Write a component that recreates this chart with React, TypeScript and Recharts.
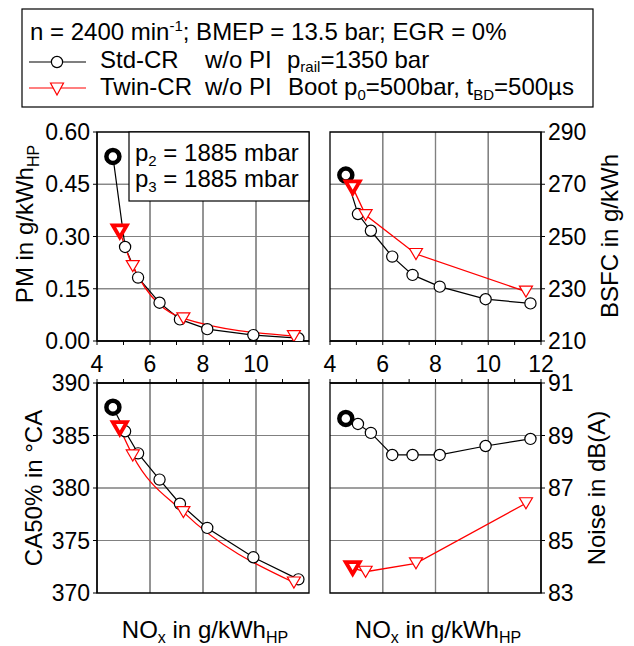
import React from "react";
import { LineChart, Line, XAxis, YAxis, CartesianGrid, ReferenceArea } from "recharts";

// NOx in g/kWh_HP of the operating points (first point = reference point, drawn bold)
const stdNox = [4.6, 5.06, 5.55, 6.36, 7.13, 8.16, 9.9, 11.6];
const twinNox = [4.86, 5.35, 7.26, 11.43];

// PM in g/kWh_HP
const pmStd = [0.53, 0.27, 0.182, 0.11, 0.062, 0.034, 0.017, 0.008];
const pmTwin = [0.315, 0.215, 0.065, 0.014];

// BSFC in g/kWh
const bsfcStd = [273.5, 258.6, 252.2, 242.3, 235.3, 230.8, 226.0, 224.4];
const bsfcTwin = [268.8, 258.2, 243.3, 228.9];

// CA50% in °CA
const ca50Std = [387.7, 385.4, 383.3, 380.8, 378.5, 376.2, 373.4, 371.3];
const ca50Twin = [385.7, 383.1, 377.7, 371.0];

// Noise in dB(A)
const noiseStd = [89.65, 89.44, 89.1, 88.26, 88.26, 88.26, 88.6, 88.87];
const noiseTwin = [83.95, 83.81, 84.13, 86.42];

const xTicks = [4, 5, 6, 7, 8, 9, 10, 11, 12];
const xGrid = [6, 8, 10];
const pmTicks = [0, 0.15, 0.3, 0.45, 0.6];
const bsfcTicks = [210, 230, 250, 270, 290];
const ca50Ticks = [370, 375, 380, 385, 390];
const noiseTicks = [83, 85, 87, 89, 91];

const W = 634;
const H = 646;
const FONT = "'Liberation Sans', Arial, Helvetica, sans-serif";
const RED = "#ff0000";
const GRID = "#808080";

const circleDot = (p: any) => {
  const { cx, cy, index } = p;
  if (cx == null || cy == null) return <g key={`c${index}`} />;
  const bold = index === 0;
  return (
    <circle
      key={`c${index}`}
      cx={cx}
      cy={cy}
      r={bold ? 6.5 : 5.6}
      fill="#fff"
      stroke="#000"
      strokeWidth={bold ? 4.5 : 1.2}
    />
  );
};

function triPath(cx: number, cy: number, w: number, h: number) {
  return `M${cx - w / 2},${cy - h / 2}L${cx + w / 2},${cy - h / 2}L${cx},${cy + h / 2}Z`;
}

const triangleDot = (p: any) => {
  const { cx, cy, index } = p;
  if (cx == null || cy == null) return <g key={`t${index}`} />;
  const bold = index === 0;
  return (
    <path
      key={`t${index}`}
      d={bold ? triPath(cx, cy, 14, 12) : triPath(cx, cy, 13, 11)}
      fill="#fff"
      stroke={RED}
      strokeWidth={bold ? 3.8 : 1.2}
      strokeLinejoin="miter"
    />
  );
};

type PanelProps = {
  x0: number;
  y0: number;
  x1: number;
  y1: number;
  yDomain: [number, number];
  yTicks: number[];
  yFmt: (v: number) => string;
  yRight?: boolean;
  xTop?: boolean;
  hide12?: boolean;
  smooth?: boolean;
  std: number[];
  twin: number[];
};

const AXW = 70;
const AXH = 40;

function Panel({ x0, y0, x1, y1, yDomain, yTicks, yFmt, yRight, xTop, hide12, smooth, std, twin }: PanelProps) {
  const stdData = stdNox.map((x, i) => ({ x, v: std[i] }));
  const twinData = twinNox.map((x, i) => ({ x, v: twin[i] }));
  const yGrid = yTicks.slice(1, -1);
  const margin = {
    left: yRight ? x0 : x0 - AXW,
    right: yRight ? W - x1 - AXW : W - x1,
    top: xTop ? y0 - AXH : y0,
    bottom: xTop ? H - y1 : H - y1 - AXH,
  };
  const tickStyle = { fill: "#000", fontSize: 23, fontFamily: FONT };

  // grid lines taken from the tick positions of a bare copy of the axes
  const vGridTick = (p: any) => (
    <line
      key={`vg${p.index}`}
      x1={p.x}
      x2={p.x}
      y1={y0}
      y2={y1}
      stroke={GRID}
      strokeWidth={1.2}
    />
  );
  const hGridTick = (p: any) => (
    <line
      key={`hg${p.index}`}
      x1={x0}
      x2={x1}
      y1={p.y}
      y2={p.y}
      stroke={GRID}
      strokeWidth={1.2}
    />
  );

  return (
    <>
      <div style={{ position: "absolute", left: 0, top: 0 }}>
        <LineChart width={W} height={H} margin={margin}>
          <CartesianGrid
            stroke={GRID}
            strokeWidth={1.2}
            verticalValues={xGrid}
            horizontalValues={yGrid}
          />
          <XAxis
            type="number"
            dataKey="x"
            domain={[4, 12]}
            ticks={xGrid}
            interval={0}
            orientation={xTop ? "top" : "bottom"}
            height={AXH}
            tick={vGridTick}
            tickLine={false}
            axisLine={false}
          />
          <YAxis
            type="number"
            domain={yDomain}
            ticks={yGrid}
            interval={0}
            orientation={yRight ? "right" : "left"}
            width={AXW}
            tick={hGridTick}
            tickLine={false}
            axisLine={false}
          />
          <Line
            data={stdData}
            dataKey="v"
            stroke="#fff"
            strokeOpacity={0}
            dot={false}
            activeDot={false}
            isAnimationActive={false}
          />
        </LineChart>
      </div>
      <div style={{ position: "absolute", left: 0, top: 0 }}>
        <LineChart width={W} height={H} margin={margin}>
          <XAxis
            type="number"
            dataKey="x"
            domain={[4, 12]}
            ticks={xTicks}
            interval={0}
            orientation={xTop ? "top" : "bottom"}
            height={AXH}
            tick={tickStyle}
            tickSize={4}
            tickMargin={11}
            tickLine={{ stroke: "#000" }}
            axisLine={{ stroke: "#000", strokeWidth: 1.3 }}
            tickFormatter={(v: number) => {
              if (xTop) return "";
              if (v % 2 !== 0) return "";
              if (hide12 && v === 12) return "";
              return String(v);
            }}
            allowDataOverflow
          />
          <YAxis
            type="number"
            domain={yDomain}
            ticks={yTicks}
            interval={0}
            orientation={yRight ? "right" : "left"}
            width={AXW}
            tick={tickStyle}
            tickSize={4}
            tickMargin={3}
            tickLine={{ stroke: "#000" }}
            axisLine={{ stroke: "#000", strokeWidth: 1.3 }}
            tickFormatter={yFmt}
            allowDataOverflow
          />
          <ReferenceArea
            x1={4}
            x2={12}
            y1={yDomain[0]}
            y2={yDomain[1]}
            fill="none"
            stroke="#000"
            strokeWidth={1.3}
          />
          <Line
            data={stdData}
            dataKey="v"
            type="linear"
            stroke="#000"
            strokeWidth={1.2}
            dot={circleDot}
            activeDot={false}
            isAnimationActive={false}
          />
          <Line
            data={twinData}
            dataKey="v"
            type={smooth ? "monotone" : "linear"}
            stroke={RED}
            strokeWidth={1.3}
            dot={triangleDot}
            activeDot={false}
            isAnimationActive={false}
          />
        </LineChart>
      </div>
    </>
  );
}

function Overlay() {
  const lf = 24;
  const sub = 15;
  return (
    <svg
      width={W}
      height={H}
      style={{ position: "absolute", left: 0, top: 0, pointerEvents: "none" }}
      fontFamily={FONT}
      fill="#000"
    >
      {/* legend box */}
      <rect x={22} y={9} width={571} height={98} fill="#fff" stroke="#000" strokeWidth={1.2} />
      <text x={30} y={40} fontSize={lf}>
        n = 2400 min
        <tspan dy={-9} fontSize={sub}>
          -1
        </tspan>
        <tspan dy={9}>; BMEP = 13.5 bar; EGR = 0%</tspan>
      </text>
      <line x1={29} y1={62} x2={86} y2={62} stroke="#000" strokeWidth={1.2} />
      <circle cx={57} cy={62} r={5.6} fill="#fff" stroke="#000" strokeWidth={1.2} />
      <text x={100} y={68} fontSize={lf}>Std-CR</text>
      <text x={205} y={68} fontSize={lf}>w/o PI</text>
      <text x={287} y={68} fontSize={lf}>
        p
        <tspan dy={4} fontSize={sub}>
          rail
        </tspan>
        <tspan dy={-4}>=1350 bar</tspan>
      </text>
      <line x1={29} y1={88} x2={86} y2={88} stroke={RED} strokeWidth={1.2} />
      <path d={triPath(57, 89, 13, 12)} fill="#fff" stroke={RED} strokeWidth={1.2} />
      <text x={100} y={95} fontSize={lf}>Twin-CR</text>
      <text x={205} y={95} fontSize={lf}>w/o PI</text>
      <text x={288} y={95} fontSize={lf}>
        Boot p
        <tspan dy={5} fontSize={sub}>
          0
        </tspan>
        <tspan dy={-5}>=500bar, t</tspan>
        <tspan dy={5} fontSize={sub}>
          BD
        </tspan>
        <tspan dy={-5}>=500µs</tspan>
      </text>

      {/* boost pressure note in the PM panel */}
      <rect x={129} y={132} width={180} height={69} fill="#fff" stroke="#000" strokeWidth={1.2} />
      <text x={135} y={161} fontSize={lf}>
        p
        <tspan dy={5} fontSize={sub}>
          2
        </tspan>
        <tspan dy={-5}> = 1885 mbar</tspan>
      </text>
      <text x={135} y={187} fontSize={lf}>
        p
        <tspan dy={5} fontSize={sub}>
          3
        </tspan>
        <tspan dy={-5}> = 1885 mbar</tspan>
      </text>

      {/* axis titles */}
      <text transform="translate(33,224) rotate(-90)" textAnchor="middle" fontSize={24}>
        PM in g/kWh
        <tspan dy={6} fontSize={16}>
          HP
        </tspan>
      </text>
      <text transform="translate(618,236) rotate(-90)" textAnchor="middle" fontSize={24}>
        BSFC in g/kWh
      </text>
      <text transform="translate(42,488) rotate(-90)" textAnchor="middle" fontSize={24}>
        CA50% in °CA
      </text>
      <text transform="translate(605,488) rotate(-90)" textAnchor="middle" fontSize={24}>
        Noise in dB(A)
      </text>
      <text x={205} y={638} textAnchor="middle" fontSize={24}>
        NO
        <tspan dy={5} fontSize={16}>
          x
        </tspan>
        <tspan dy={-5}> in g/kWh</tspan>
        <tspan dy={5} fontSize={16}>
          HP
        </tspan>
      </text>
      <text x={438} y={638} textAnchor="middle" fontSize={24}>
        NO
        <tspan dy={5} fontSize={16}>
          x
        </tspan>
        <tspan dy={-5}> in g/kWh</tspan>
        <tspan dy={5} fontSize={16}>
          HP
        </tspan>
      </text>
    </svg>
  );
}

export default function App() {
  return (
    <div style={{ position: "absolute", left: 0, top: 0, width: W, height: H, background: "#fff" }}>
      <Panel
        x0={97}
        y0={132}
        x1={309}
        y1={341}
        yDomain={[0, 0.6]}
        yTicks={pmTicks}
        yFmt={(v) => v.toFixed(2)}
        hide12
        smooth
        std={pmStd}
        twin={pmTwin}
      />
      <Panel
        x0={330}
        y0={132}
        x1={541}
        y1={341}
        yDomain={[210, 290]}
        yTicks={bsfcTicks}
        yFmt={(v) => String(v)}
        yRight
        std={bsfcStd}
        twin={bsfcTwin}
      />
      <Panel
        x0={97}
        y0={383}
        x1={309}
        y1={593}
        yDomain={[370, 390]}
        yTicks={ca50Ticks}
        yFmt={(v) => String(v)}
        xTop
        smooth
        std={ca50Std}
        twin={ca50Twin}
      />
      <Panel
        x0={330}
        y0={383}
        x1={541}
        y1={593}
        yDomain={[83, 91]}
        yTicks={noiseTicks}
        yFmt={(v) => String(v)}
        yRight
        xTop
        std={noiseStd}
        twin={noiseTwin}
      />
      <Overlay />
    </div>
  );
}
